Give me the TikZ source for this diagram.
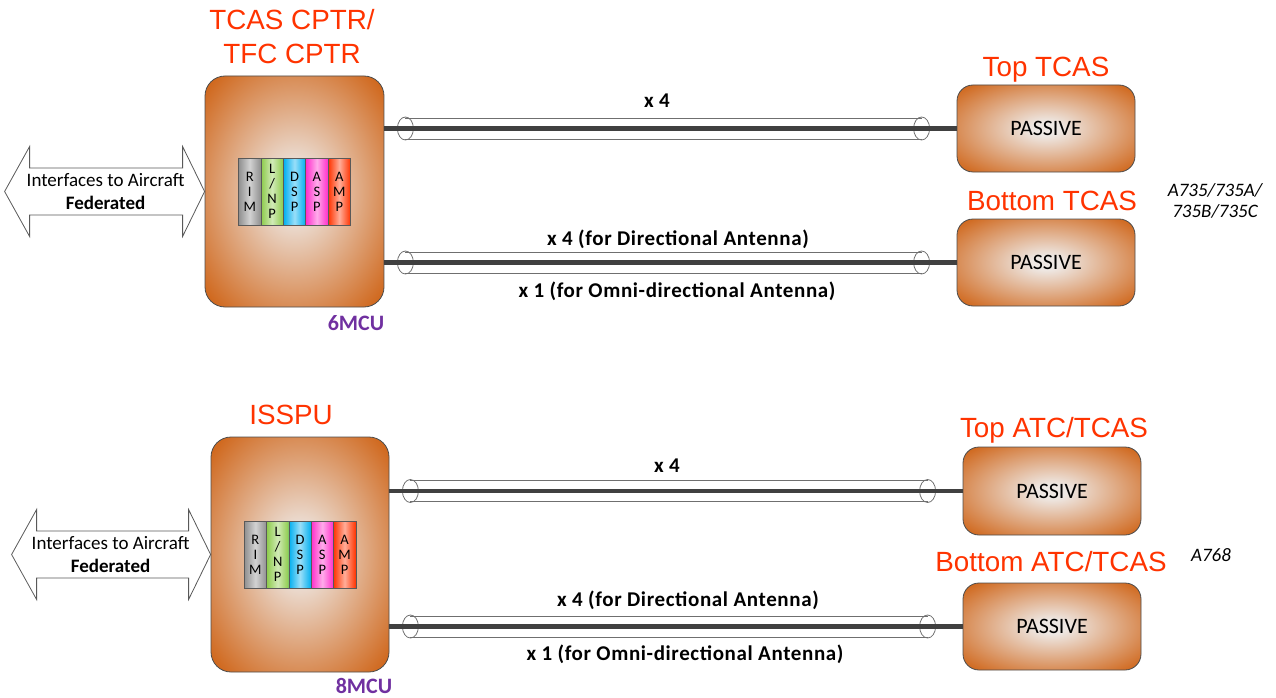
\documentclass[tikz,border=0pt]{standalone}
\usepackage{fontspec}
\setmainfont{Carlito}
\newfontfamily\arialf{Liberation Sans}
\newfontfamily\lblfont[LetterSpace=3]{Carlito}
\usetikzlibrary{calc}
\definecolor{orng}{HTML}{D0691F}
\definecolor{boxc}{HTML}{EEE8E4}
\definecolor{ttl}{HTML}{FF3300}
\definecolor{mcu}{HTML}{7030A0}
\definecolor{cab}{HTML}{404040}
\definecolor{tub}{HTML}{6F6F6F}
\definecolor{cRIM}{HTML}{8F8F8F}
\definecolor{cLNP}{HTML}{8CCB4A}
\definecolor{cDSP}{HTML}{00AEEF}
\definecolor{cASP}{HTML}{FF2ECB}
\definecolor{cAMP}{HTML}{FF3300}
\pgfdeclareradialshading{boxshade}{\pgfpoint{0bp}{0bp}}{color(0bp)=(boxc); color(4bp)=(boxc); color(33bp)=(orng); color(100bp)=(orng)}
\tikzset{
  mainbox/.style={draw=black!70, line width=0.8pt, rounded corners=20, shading=boxshade, inner sep=0},
  passbox/.style={draw=black!70, line width=0.8pt, rounded corners=16, shading=boxshade, minimum width=178, minimum height=87, inner sep=0, font=\fontsize{22}{26}\selectfont},
  card/.style={draw=black!65, line width=0.6pt, minimum width=22.4, minimum height=67, inner sep=0, align=center, font=\fontsize{14.5}{15}\selectfont, left color=#1, right color=#1, middle color=#1!40!white},
  ttlstyle/.style={text=ttl, inner sep=0, font=\arialf\fontsize{27.8}{34}\selectfont},
  lbl/.style={inner sep=0, font=\lblfont\bfseries\fontsize{21}{24}\selectfont},
  mculbl/.style={inner sep=0, text=mcu, font=\bfseries\fontsize{22}{26}\selectfont},
  ital/.style={inner sep=0, align=center, font=\itshape\fontsize{19}{20.5}\selectfont},
  iftext/.style={inner sep=0, align=center, font=\fontsize{19}{23}\selectfont},
  iface/.style={draw=black!65, line width=0.8pt, fill=white},
  tube/.style={draw=tub, line width=0.8pt},
  cable/.style={draw=cab, line width=4.5pt},
}
\newcommand\drawcable[2]{%
  \draw[tube] ($(#1)+(21,-10.5)$) -- ($(#2)+(-35,-10.5)$) ($(#1)+(21,10.5)$) -- ($(#2)+(-35,10.5)$);
  \draw[tube] ($(#1)+(21,0)$) ellipse [x radius=8, y radius=11.5] ($(#2)+(-35,0)$) ellipse [x radius=8, y radius=11.5];
  \draw[cable] (#1) -- (#2);}
\begin{document}
\begin{tikzpicture}[x=1pt,y=-1pt]
\useasboundingbox (0,0) rectangle (1276,698);
% ---------- top section ----------
\node[mainbox, minimum width=179, minimum height=231] (tcas) at (294.5,191.5) {};
\foreach \c/\txt [count=\i] in {cRIM/{R\\I\\M}, cLNP/{L\\/\\N\\P}, cDSP/{D\\S\\P}, cASP/{A\\S\\P}, cAMP/{A\\M\\P}}
  \node[card=\c] (tc\i) at ($(tcas.center)+({(\i-3)*22.4},0)$) {\txt};
\node[ttlstyle, align=center, anchor=north] (tcasttl) at (292,9) {TCAS CPTR/\\TFC CPTR};
\node[mculbl, anchor=base] (mcu6) at (356,330) {6MCU};

\node[passbox] (ptop) at (1046,128.5) {PASSIVE};
\node[passbox] (pbot) at (1046,262.5) {PASSIVE};
\node[ttlstyle, anchor=base] (ptopttl) at (1046,76.5) {Top TCAS};
\node[ttlstyle, anchor=base] (pbotttl) at (1052,210.5) {Bottom TCAS};
\node[ital] (a735) at (1215,201) {A735/735A/\\735B/735C};

\coordinate (c1s) at (tcas.east |- ptop.west);
\coordinate (c2s) at (tcas.east |- pbot.west);
\drawcable{c1s}{ptop.west}
\drawcable{c2s}{pbot.west}
\node[lbl, anchor=base] (l1) at (657,108) {x 4};
\node[lbl, anchor=base] (l2) at (678,245) {x 4 (for Directional Antenna)};
\node[lbl, anchor=base] (l3) at (677,297) {x 1 (for Omni-directional Antenna)};

\draw[iface] (tcas.west) -- ++(-22,-45) -- ++(0,21.5) -- ++(-153,0) -- ++(0,-21.5) -- ++(-25,45) -- ++(25,45) -- ++(0,-21.5) -- ++(153,0) -- ++(0,21.5) -- cycle;
\node[iftext] (if1) at ($(tcas.west)+(-99,0)$) {Interfaces to Aircraft\\\textbf{Federated}};

% ---------- bottom section ----------
\node[mainbox, minimum width=178, minimum height=235] (isspu) at (300,554.5) {};
\foreach \c/\txt [count=\i] in {cRIM/{R\\I\\M}, cLNP/{L\\/\\N\\P}, cDSP/{D\\S\\P}, cASP/{A\\S\\P}, cAMP/{A\\M\\P}}
  \node[card=\c] (ic\i) at ($(isspu.center)+({(\i-3)*22.3},0)$) {\txt};
\node[ttlstyle, anchor=base] (issputtl) at (291,424.5) {ISSPU};
\node[mculbl, anchor=base] (mcu8) at (364,693) {8MCU};

\node[passbox, minimum height=88] (atop) at (1052,491) {PASSIVE};
\node[passbox] (abot) at (1052,626.5) {PASSIVE};
\node[ttlstyle, anchor=base] (atopttl) at (1054,437.5) {Top ATC/TCAS};
\node[ttlstyle, anchor=base] (abotttl) at (1051,571.5) {Bottom ATC/TCAS};
\node[ital, anchor=base] (a768) at (1211,561) {A768};

\coordinate (c3s) at (isspu.east |- atop.west);
\coordinate (c4s) at (isspu.east |- abot.west);
\drawcable{c3s}{atop.west}
\drawcable{c4s}{abot.west}
\node[lbl, anchor=base] (l4) at (667,472) {x 4};
\node[lbl, anchor=base] (l5) at (688,606) {x 4 (for Directional Antenna)};
\node[lbl, anchor=base] (l6) at (685,660) {x 1 (for Omni-directional Antenna)};

\draw[iface] (isspu.west) -- ++(-22,-45) -- ++(0,21.5) -- ++(-152,0) -- ++(0,-21.5) -- ++(-25,45) -- ++(25,45) -- ++(0,-21.5) -- ++(152,0) -- ++(0,21.5) -- cycle;
\node[iftext] (if2) at ($(isspu.west)+(-100,0)$) {Interfaces to Aircraft\\\textbf{Federated}};
\end{tikzpicture}
\end{document}
